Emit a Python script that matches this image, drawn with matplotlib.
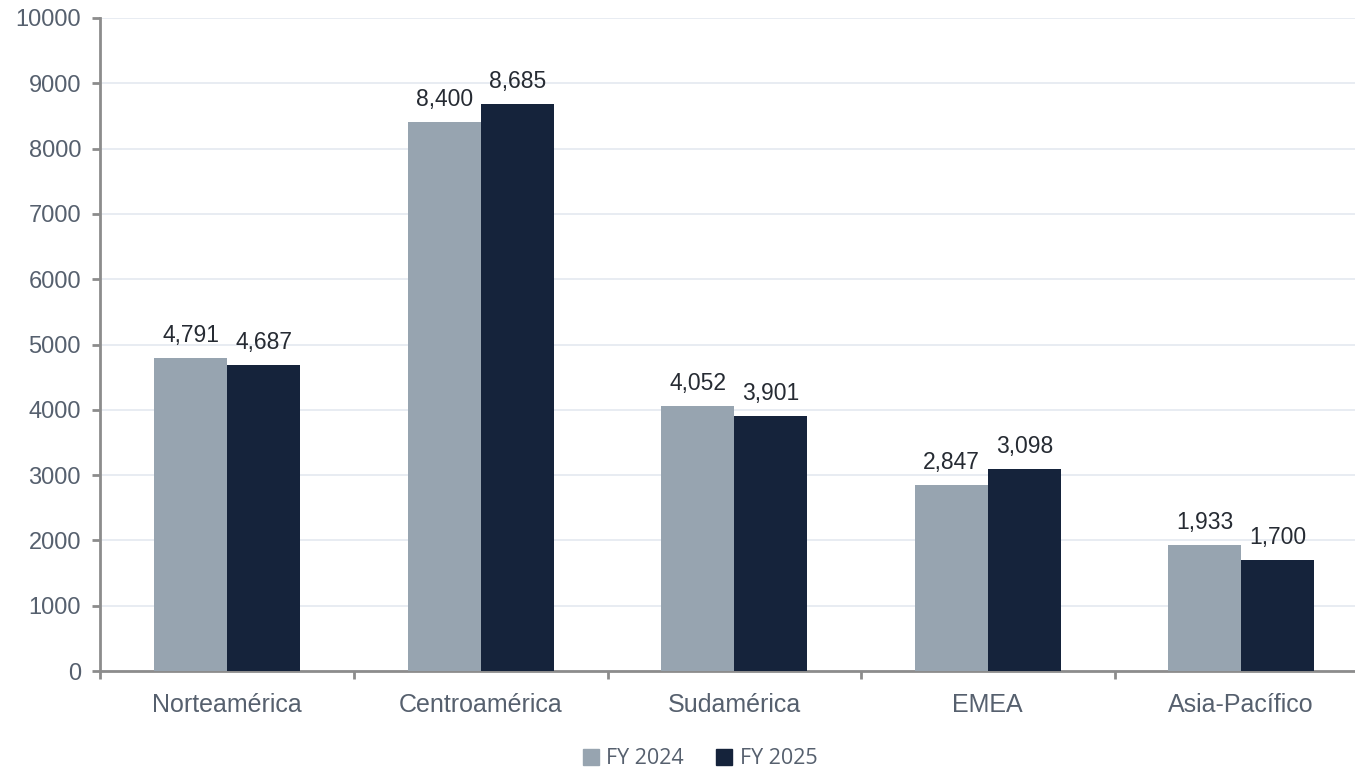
import matplotlib
matplotlib.use("Agg")
import matplotlib.pyplot as plt
import numpy as np
from matplotlib.patches import Patch

categories = ["Norteamérica", "Centroamérica", "Sudamérica", "EMEA", "Asia-Pacífico"]
fy2024 = [4791, 8400, 4052, 2847, 1933]
fy2025 = [4687, 8685, 3901, 3098, 1700]
series_names = ["FY 2024", "FY 2025"]
yticks = [0, 1000, 2000, 3000, 4000, 5000, 6000, 7000, 8000, 9000, 10000]

c1 = "#97a4b0"
c2 = "#15233b"
tick_col = "#56606e"
spine_col = "#8c8c8c"

fig = plt.figure(figsize=(13.55, 7.68), dpi=100)
ax = fig.add_axes([100.5/1355, 97/768, 1267.5/1355, 653/768])

x = np.arange(len(categories))
w = 0.288
b1 = ax.bar(x - w/2, fy2024, w, color=c1, zorder=3)
b2 = ax.bar(x + w/2, fy2025, w, color=c2, zorder=3)

for bars, vals in ((b1, fy2024), (b2, fy2025)):
    for r, v in zip(bars, vals):
        ax.annotate(f"{v:,}", (r.get_x() + r.get_width()/2, v), xytext=(0, 8),
                    textcoords="offset points", ha="center", va="bottom",
                    fontsize=16.5, color="#262b33", family="Liberation Sans", zorder=4)

ax.set_xlim(-0.5, len(categories) - 0.5)
ax.set_ylim(0, 10000)
ax.set_yticks(yticks)
ax.set_yticklabels([str(t) for t in yticks], family="Liberation Sans", fontsize=17, color=tick_col)
ax.yaxis.grid(True, color="#e4e9f0", linewidth=1.2, zorder=0)
ax.set_axisbelow(True)

ax.set_xticks(np.arange(-0.5, len(categories), 1.0))
ax.set_xticklabels([])
ax.set_xticks(x, minor=True)
ax.set_xticklabels(categories, minor=True, family="Liberation Sans", fontsize=18, color=tick_col)
ax.tick_params(axis="x", which="minor", length=0, pad=15.5)
ax.tick_params(axis="x", which="major", length=6, width=2, color=spine_col, direction="out")
ax.tick_params(axis="y", length=6, width=2, color=spine_col, direction="out", pad=8)

for s in ["top", "right"]:
    ax.spines[s].set_visible(False)
for s in ["left", "bottom"]:
    ax.spines[s].set_color(spine_col)
    ax.spines[s].set_linewidth(2)

handles = [Patch(color=c1), Patch(color=c2)]
leg = fig.legend(handles, series_names, loc="center", bbox_to_anchor=(700/1355, 1 - 759/768),
                 ncol=2, frameon=False, handlelength=0.75, handleheight=0.75, handletextpad=0.35,
                 columnspacing=1.5, prop={"family": "Open Sans", "size": 15.5})
for t in leg.get_texts():
    t.set_color(tick_col)

fig.savefig("out.png", dpi=100)
